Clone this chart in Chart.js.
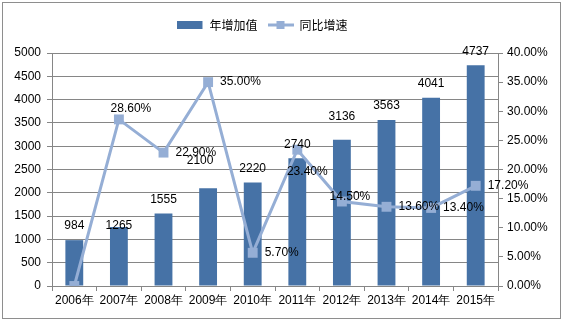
<!DOCTYPE html>
<html>
<head>
<meta charset="utf-8">
<script src="https://cdn.jsdelivr.net/npm/chart.js@4/dist/chart.umd.min.js"></script>
<style>
  body { margin: 0; background: #fff; }
  #wrap { width: 565px; height: 325px; }
</style>
</head>
<body>
<div id="wrap"><canvas id="graphCanvas" width="565" height="325"></canvas></div>
<script>
// data
var years = ['2006年', '2007年', '2008年', '2009年', '2010年', '2011年', '2012年', '2013年', '2014年', '2015年'];
var addValue = [984, 1265, 1555, 2100, 2220, 2740, 3136, 3563, 4041, 4737];
var growthRate = [0, 28.6, 22.9, 35.0, 5.7, 23.4, 14.5, 13.6, 13.4, 17.2];
var growthText = ['', '28.60%', '22.90%', '35.00%', '5.70%', '23.40%', '14.50%', '13.60%', '13.40%', '17.20%'];

// label placement (style only)
var barLabelShift = [[0, 0], [0, 13], [0, 0], [-8, -13], [0, 0], [0, 0], [0, -9], [0, 0], [0, 0], [0, 0]];
var lineLabelPos = ['none', 'above', 'right', 'right', 'right', 'below', 'center', 'right', 'right', 'right'];

var barColor = '#4672a6';
var lineColor = '#95aed5';
var txtFont = '12px "Liberation Sans", Arial, sans-serif';

function makeIcon(kind) {
    var c = document.createElement('canvas');
    c.width = 26; c.height = 10;
    var g = c.getContext('2d');
    if (kind === 'bar') {
        g.fillStyle = barColor;
        g.fillRect(0, 1, 25, 8);
    } else {
        g.strokeStyle = lineColor;
        g.lineWidth = 3;
        g.beginPath(); g.moveTo(0, 5); g.lineTo(26, 5); g.stroke();
        g.fillStyle = lineColor;
        g.fillRect(9, 1, 8, 8);
    }
    return c;
}
var icons = [makeIcon('bar'), makeIcon('line')];

var labelPlugin = {
    id: 'valueLabels',
    afterInit: function (chart) {
        var lg = chart.legend;
        if (lg) {
            var origFit = lg.fit;
            lg.fit = function () {
                origFit.call(this);
                this.height = 44;
            };
        }
    },
    afterLayout: function (chart) {
        // legend sits a bit left of centre in the original
        if (chart.legend) {
            chart.legend.left -= 20;
            chart.legend.right -= 20;
        }
    },
    afterDatasetsDraw: function (chart) {
        var ctx = chart.ctx;
        ctx.save();
        ctx.font = txtFont;
        ctx.fillStyle = '#000';
        ctx.textBaseline = 'middle';
        var barMeta = chart.getDatasetMeta(0);
        barMeta.data.forEach(function (el, i) {
            ctx.textAlign = 'center';
            var s = barLabelShift[i];
            ctx.fillText(String(addValue[i]), el.x + s[0], el.y - 14 + s[1]);
        });
        var lineMeta = chart.getDatasetMeta(1);
        lineMeta.data.forEach(function (el, i) {
            var p = lineLabelPos[i];
            if (p === 'none') return;
            var t = growthText[i];
            if (p === 'right') {
                ctx.textAlign = 'left';
                ctx.fillText(t, el.x + 12, el.y);
            } else if (p === 'above') {
                ctx.textAlign = 'center';
                ctx.fillText(t, el.x + 12, el.y - 11);
            } else if (p === 'below') {
                ctx.textAlign = 'center';
                ctx.fillText(t, el.x + 10, el.y + 22);
            } else {
                ctx.textAlign = 'center';
                ctx.fillText(t, el.x + 8, el.y - 5);
            }
        });
        ctx.restore();
    },
    afterDraw: function (chart) {
        var ctx = chart.ctx;
        ctx.save();
        ctx.strokeStyle = '#8e8e8e';
        ctx.lineWidth = 1;
        ctx.strokeRect(2.5, 2.5, 558, 316);
        ctx.restore();
    }
};

var tickFont = { family: '"Liberation Sans", Arial, sans-serif', size: 12 };

new Chart(document.getElementById('graphCanvas'), {
    type: 'bar',
    data: {
        labels: years,
        datasets: [
            {
                label: '年增加值',
                data: addValue,
                backgroundColor: barColor,
                yAxisID: 'y',
                order: 2,
                categoryPercentage: 0.8,
                barPercentage: 0.5
            },
            {
                type: 'line',
                label: '同比增速',
                data: growthRate,
                borderColor: lineColor,
                backgroundColor: lineColor,
                borderWidth: 3,
                pointStyle: 'rect',
                pointRadius: 7,
                pointBorderWidth: 0,
                tension: 0,
                yAxisID: 'y1',
                order: 1
            }
        ]
    },
    options: {
        responsive: false,
        animation: false,
        layout: { padding: { top: 9, left: 0, right: 0, bottom: 0 } },
        plugins: {
            tooltip: { enabled: false },
            legend: {
                position: 'top',
                labels: {
                    usePointStyle: true,
                    pointStyleWidth: 26,
                    color: '#000',
                    padding: 10,
                    font: { family: '"Noto Sans CJK SC", sans-serif', size: 12 },
                    generateLabels: function (chart) {
                        var items = Chart.defaults.plugins.legend.labels.generateLabels(chart);
                        items.sort(function (a, b) { return a.datasetIndex - b.datasetIndex; });
                        items.forEach(function (it) { it.pointStyle = icons[it.datasetIndex]; });
                        return items;
                    }
                }
            }
        },
        scales: {
            x: {
                grid: { drawOnChartArea: false, drawTicks: true, tickLength: 5, color: '#868686', offset: true },
                border: { color: '#868686' },
                ticks: { color: '#000', font: tickFont, padding: 2, maxRotation: 0, autoSkip: false },
                afterFit: function (s) { s.height = 39; }
            },
            y: {
                position: 'left',
                min: 0, max: 5000,
                ticks: {
                    stepSize: 500, color: '#000', font: tickFont, padding: 6,
                    callback: function (v) { return String(v); }
                },
                grid: { color: '#868686', tickLength: 5 },
                border: { color: '#868686' },
                afterFit: function (s) { s.width = 52; }
            },
            y1: {
                position: 'right',
                min: 0, max: 40,
                ticks: {
                    stepSize: 5, color: '#000', font: tickFont, padding: 4,
                    callback: function (v) { return v.toFixed(2) + '%'; }
                },
                grid: { drawOnChartArea: false, color: '#868686', tickLength: 5 },
                border: { color: '#868686' },
                afterFit: function (s) { s.width = 67; }
            }
        }
    },
    plugins: [labelPlugin]
});
</script>
</body>
</html>
